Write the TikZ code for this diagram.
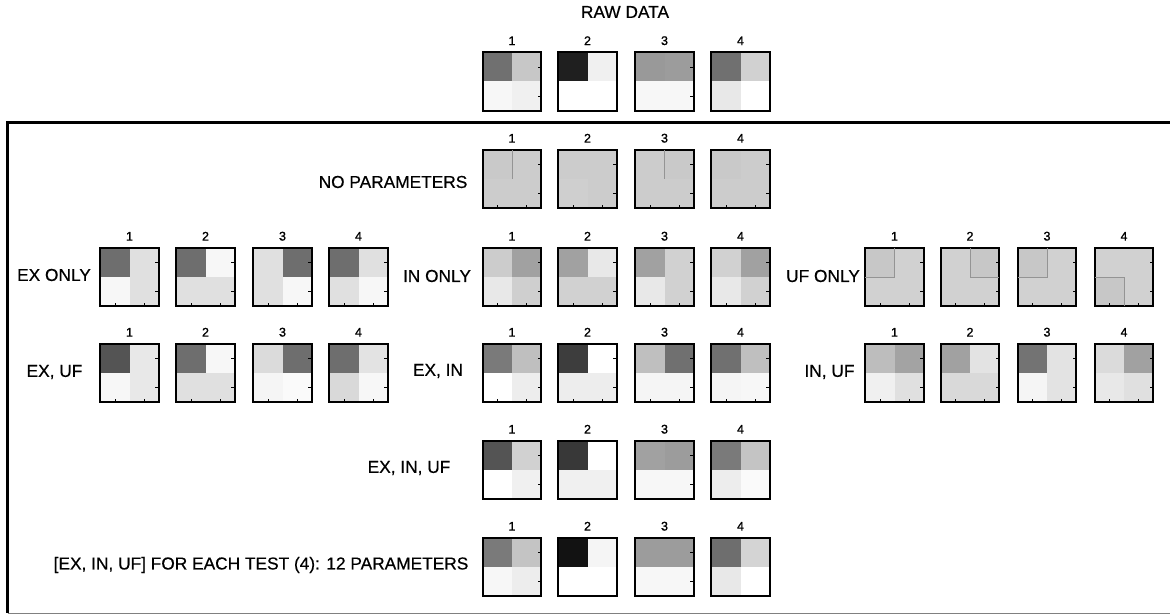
\documentclass[tikz,border=0pt]{standalone}
\usepackage{fontspec}
\setmainfont{Liberation Sans}
\newfontfamily\labelfont[FakeBold=0.5]{Liberation Sans}
\newfontfamily\numfont[FakeBold=1.2]{Liberation Sans}
\usetikzlibrary{positioning}

\newcommand{\gpanel}[7]{%
\node[cellbox] (#1) at (#2) {};
\fill[black!#3] (#1.north west) rectangle (#1.center);
\fill[black!#4] (#1.north) rectangle (#1.east);
\fill[black!#5] (#1.west) rectangle (#1.south);
\fill[black!#6] (#1.center) rectangle (#1.south east);
\draw[cellframe] (#1.north west) rectangle (#1.south east);
\node[numlabel, above=7pt of #1] (#1num) {#7};
}
\newcommand{\rticks}[1]{%
\draw[celltick] (#1.north east) ++(0,15) -- ++(-3.5,0);
\draw[celltick] (#1.north east) ++(0,44) -- ++(-3.5,0);
}
\newcommand{\bticks}[1]{%
\draw[celltick] (#1.south west) ++(15,0) -- ++(0,-3.5);
\draw[celltick] (#1.south west) ++(44,0) -- ++(0,-3.5);
}

\begin{document}
\begin{tikzpicture}[x=1pt, y=-1pt,
  cellbox/.style={rectangle, inner sep=0pt, minimum size=58pt},
  cellframe/.style={line width=1.8pt, black},
  celltick/.style={line width=1pt, black},
  cellline/.style={line width=1pt, black!42},
  numlabel/.style={inner sep=0pt, font=\numfont\fontsize{12.5}{12.5}\selectfont},
  rowlabel/.style={inner sep=0pt, font=\labelfont\fontsize{17.3}{18}\selectfont}]
\useasboundingbox (0,0) rectangle (1170,615);

\node[rowlabel] (rawdata) at (625,12) {RAW DATA};
\gpanel{raw1}{512,81.5}{56}{22}{3}{6}{1}
\gpanel{raw2}{587.5,81.5}{88}{6}{0}{0}{2}
\gpanel{raw3}{664.5,81.5}{40}{39}{3}{3}{3}
\gpanel{raw4}{740.5,81.5}{56}{18}{9}{0}{4}

\draw[line width=3pt] (1170,123) -- (7.5,123) -- (7.5,613);
\draw[line width=1.5pt, black!50] (7.5,613.5) -- (1170,613.5);

\node[rowlabel] (nopar) at (393,182) {NO PARAMETERS};
\gpanel{np1}{512,179}{21}{20}{20}{20}{1}
\gpanel{np2}{587.5,179}{20}{20}{19}{20}{2}
\gpanel{np3}{664.5,179}{20}{21}{20}{20}{3}
\gpanel{np4}{740.5,179}{21}{20}{20}{20}{4}
\draw[cellline] (np1.north) -- (np1.center);
\draw[cellline] (np3.north) -- (np3.center);

\node[rowlabel] (exonly) at (54,275) {EX ONLY};
\gpanel{ex1}{129.5,277}{57}{12}{3}{12}{1}
\gpanel{ex2}{205.5,277}{57}{3}{12}{12}{2}
\gpanel{ex3}{282.5,277}{12}{57}{12}{3}{3}
\gpanel{ex4}{358.5,277}{57}{12}{12}{3}{4}

\node[rowlabel] (inonly) at (437,276) {IN ONLY};
\gpanel{in1}{512,277}{20}{37}{9}{19}{1}
\gpanel{in2}{587.5,277}{37}{9}{18}{18}{2}
\gpanel{in3}{664.5,277}{37}{18}{9}{18}{3}
\gpanel{in4}{740.5,277}{18}{37}{9}{18}{4}

\node[rowlabel] (ufonly) at (823,276) {UF ONLY};
\gpanel{uf1}{894.5,277}{22}{18}{18}{18}{1}
\gpanel{uf2}{970,277}{18}{22}{18}{18}{2}
\gpanel{uf3}{1047,277}{22}{18}{18}{18}{3}
\gpanel{uf4}{1124,277}{18}{18}{22}{18}{4}
\draw[cellline] (uf1.north) -- (uf1.center) -- (uf1.west);
\draw[cellline] (uf2.north) -- (uf2.center) -- (uf2.east);
\draw[cellline] (uf3.north) -- (uf3.center) -- (uf3.west);
\draw[cellline] (uf4.west) -- (uf4.center) -- (uf4.south);

\node[rowlabel] (exuf) at (54.5,372) {EX, UF};
\gpanel{eu1}{129.5,373}{67}{9}{3}{9}{1}
\gpanel{eu2}{205.5,373}{57}{3}{12}{12}{2}
\gpanel{eu3}{282.5,373}{14}{57}{4}{2}{3}
\gpanel{eu4}{358.5,373}{57}{11}{15}{3}{4}

\node[rowlabel] (exin) at (438,371) {EX, IN};
\gpanel{ei1}{512,373}{52}{25}{0}{7}{1}
\gpanel{ei2}{587.5,373}{76}{0}{7}{7}{2}
\gpanel{ei3}{664.5,373}{25}{56}{4}{4}{3}
\gpanel{ei4}{740.5,373}{56}{25}{4}{3}{4}

\node[rowlabel] (inuf) at (829.5,372) {IN, UF};
\gpanel{iu1}{894.5,373}{26}{36}{6}{12}{1}
\gpanel{iu2}{970,373}{37}{11}{15}{15}{2}
\gpanel{iu3}{1047,373}{55}{11}{4}{11}{3}
\gpanel{iu4}{1124,373}{14}{37}{9}{12}{4}

\node[rowlabel] (exinuf) at (409,468) {EX, IN, UF};
\gpanel{eiu1}{512,470}{67}{18}{0}{6}{1}
\gpanel{eiu2}{587.5,470}{78}{0}{6}{6}{2}
\gpanel{eiu3}{664.5,470}{37}{39}{3}{3}{3}
\gpanel{eiu4}{740.5,470}{52}{23}{7}{2}{4}

\node[rowlabel] (pertest) at (261,565) {[EX, IN, UF] FOR EACH TEST (4): 12 PARAMETERS};
\gpanel{all1}{512,567}{52}{23}{3}{7}{1}
\gpanel{all2}{587.5,567}{93}{4}{0}{0}{2}
\gpanel{all3}{664.5,567}{39}{39}{3}{3}{3}
\gpanel{all4}{740.5,567}{57}{17}{9}{0}{4}

\foreach \p in {raw1,raw3,eiu1,eiu3,all1,all3} {\rticks{\p}}
\foreach \p in {np1,np2,np3,np4,ex1,ex2,ex3,ex4,in1,in2,in3,in4,uf1,uf2,uf3,uf4,
  eu1,eu2,eu3,eu4,ei1,ei2,ei3,ei4,iu1,iu2,iu3,iu4} {\rticks{\p}\bticks{\p}}

\end{tikzpicture}
\end{document}
